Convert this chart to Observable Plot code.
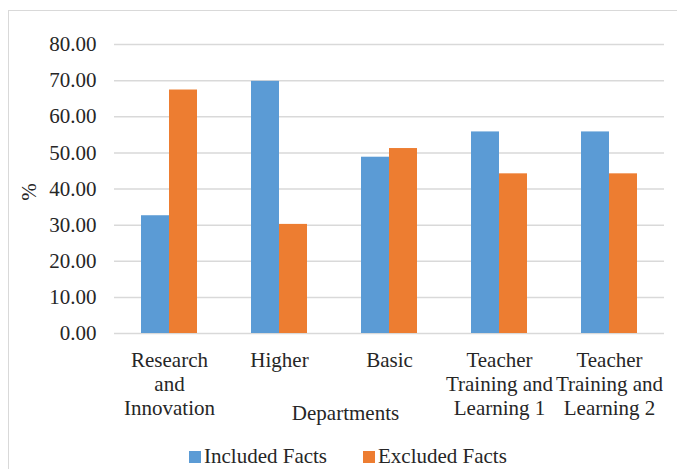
<!DOCTYPE html>
<html>
<head>
<meta charset="utf-8">
<script src="https://cdn.jsdelivr.net/npm/d3@7"></script>
<script src="https://cdn.jsdelivr.net/npm/@observablehq/plot@0.6"></script>
<style>
  html, body { margin: 0; padding: 0; background: #fff; }
  #wrap { position: relative; width: 677px; height: 469px; overflow: hidden; font-family: "Liberation Serif", "DejaVu Serif", serif; color: #262626; }
  #frame { position: absolute; left: 8px; top: 10px; width: 700px; height: 500px; border: 1.5px solid #d9d9d9; box-sizing: border-box; pointer-events: none; }
  #chart { position: absolute; left: 0; top: 0; }
  #chart svg text { font-family: "Liberation Serif", "DejaVu Serif", serif; }
  .lg-sw { position: absolute; width: 12px; height: 12px; top: 451px; }
  .lg-tx { position: absolute; top: 444px; font-size: 21px; line-height: 24px; white-space: nowrap; }
</style>
</head>
<body>
<div id="wrap">
  <div id="chart"></div>
  <div id="frame"></div>
</div>
<script>
const categories = ["Research and Innovation", "Higher", "Basic", "Teacher Training and Learning 1", "Teacher Training and Learning 2"];
const tickLabels = ["Research\nand\nInnovation", "Higher", "Basic", "Teacher\nTraining and\nLearning 1", "Teacher\nTraining and\nLearning 2"];
const series = ["Included Facts", "Excluded Facts"];
const colors = ["#5b9bd5", "#ed7d31"];
const included = [32.6, 69.8, 48.8, 55.8, 55.8];
const excluded = [67.4, 30.2, 51.2, 44.2, 44.2];
const yTicks = [0, 10, 20, 30, 40, 50, 60, 70, 80];
const yLabel = "%";
const xLabel = "Departments";

const rows = [];
categories.forEach((c, i) => {
  rows.push({dept: c, series: series[0], value: included[i]});
  rows.push({dept: c, series: series[1], value: excluded[i]});
});
const labelOf = new Map(categories.map((c, i) => [c, tickLabels[i]]));

const plot = Plot.plot({
  width: 677,
  height: 440,
  marginLeft: 112,
  marginRight: 11,
  marginTop: 44,
  marginBottom: 107,
  style: {fontFamily: "'Liberation Serif', 'DejaVu Serif', serif", fontSize: "21px", color: "#262626", background: "transparent"},
  fx: {domain: categories, padding: 0},
  x: {domain: series, paddingInner: 0, paddingOuter: 0.937, axis: null},
  y: {domain: [0, 80]},
  color: {domain: series, range: colors},
  marks: [
    Plot.gridY(yTicks, {stroke: "#d9d9d9", strokeOpacity: 1, strokeWidth: 1.5}),
    Plot.barY(rows, {fx: "dept", x: "series", y: "value", fill: "series"}),
    Plot.axisY(yTicks, {tickSize: 0, tickPadding: 18, tickFormat: d3.format(".2f"), fontSize: 21, label: null}),
    Plot.axisFx({anchor: "bottom", tickSize: 0, tickPadding: 17, fontSize: 21, lineHeight: 1.13, tickFormat: d => labelOf.get(d), label: null}),
    Plot.text([{fx: categories[0], t: yLabel}], {fx: "fx", text: "t", frameAnchor: "left", textAnchor: "middle", lineAnchor: "middle", rotate: -90, dx: -85, dy: 3, fontSize: 21}),
    Plot.text([{fx: categories[2], t: xLabel}], {fx: "fx", text: "t", frameAnchor: "bottom", textAnchor: "middle", lineAnchor: "middle", dx: -44, dy: 79.5, fontSize: 21})
  ]
});
document.getElementById("chart").appendChild(plot);

const wrap = document.getElementById("wrap");
const legendPos = [[189, 204], [363, 378]];
series.forEach((s, i) => {
  const sw = document.createElement("div");
  sw.className = "lg-sw";
  sw.style.left = legendPos[i][0] + "px";
  sw.style.background = colors[i];
  wrap.appendChild(sw);
  const tx = document.createElement("div");
  tx.className = "lg-tx";
  tx.style.left = legendPos[i][1] + "px";
  tx.textContent = s;
  wrap.appendChild(tx);
});
</script>
</body>
</html>
